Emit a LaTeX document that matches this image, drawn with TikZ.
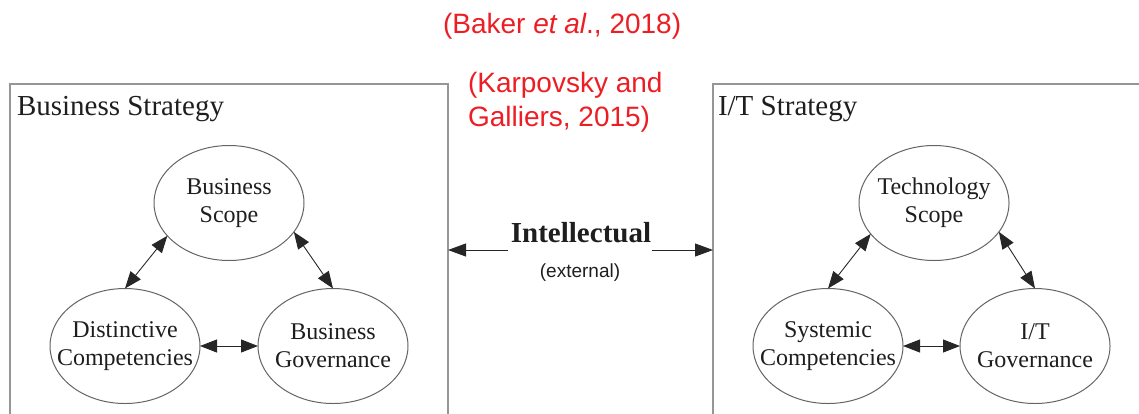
\documentclass[tikz,border=0pt]{standalone}
\usepackage{fontspec}
\setmainfont{Liberation Serif}
\newfontfamily\arialfont{Liberation Sans}
\usetikzlibrary{shapes.geometric,arrows.meta}
\definecolor{citered}{RGB}{236,30,36}
\definecolor{boxgray}{RGB}{150,150,150}
\definecolor{ellgray}{RGB}{100,100,100}
\definecolor{txt}{RGB}{30,30,30}
\begin{document}
\begin{tikzpicture}[x=1pt,y=-1pt,
  every node/.style={inner sep=0pt, outer sep=0pt},
  panel/.style={draw=boxgray, line width=1.2pt, rectangle, anchor=north west},
  title/.style={anchor=base west, font=\fontsize{29}{33}\selectfont, text=txt},
  bubble/.style={ellipse, draw=ellgray, line width=1pt, minimum width=150pt,
    minimum height=115pt, inner xsep=-18pt, inner ysep=0pt, align=center,
    font=\fontsize{24}{28}\selectfont, text=txt},
  link/.style={{Triangle[length=17pt,width=13pt]}-{Triangle[length=17pt,width=13pt]},
    line width=0.9pt, draw=black!85},
  halfarrow/.style={-{Triangle[length=18pt,width=13pt]}, line width=0.9pt, draw=black!85},
  cite/.style={font=\arialfont\fontsize{28}{34}\selectfont, text=citered}
]
\useasboundingbox (0,0) rectangle (1139,413);
\clip (0,0) rectangle (1139,413);

% panels
\node[panel, minimum width=438pt, minimum height=360pt] (bsbox) at (10,84) {};
\node[panel, minimum width=470pt, minimum height=360pt] (itbox) at (713,84) {};
\node[title] (bstitle) at (17,115) {Business Strategy};
\node[title] (ittitle) at (718,115) {I/T Strategy};

% business side
\node[bubble] (bs) at (229,203) {Business\\Scope};
\node[bubble] (dc) at (125,346) {Distinctive\\Competencies};
\node[bubble] (bg) at (333,346) {Business\\Governance};
\draw[link] (bs.208) -- (dc.north);
\draw[link] (bs.336) -- (bg.north);
\draw[link] (dc.east) -- (bg.west);

% I/T side
\node[bubble] (ts) at (934,203) {Technology\\Scope};
\node[bubble] (sc) at (828,346) {Systemic\\Competencies};
\node[bubble] (ig) at (1035,346) {I/T\\Governance};
\draw[link] (ts.206) -- (sc.north);
\draw[link] (ts.336) -- (ig.north);
\draw[link] (sc.east) -- (ig.west);

% intellectual link
\node[anchor=base, font=\bfseries\fontsize{29}{33}\selectfont, text=txt] (intel) at (581,242) {Intellectual};
\node[anchor=base, font=\arialfont\fontsize{19}{22}\selectfont, text=txt] (ext) at (580,277) {(external)};
\coordinate (ilL) at (508,250);
\coordinate (ilR) at (652,250);
\draw[halfarrow] (ilL) -- (bsbox.east |- ilL);
\draw[halfarrow] (ilR) -- (itbox.west |- ilR);

% citations
\node[cite, anchor=base west] (baker) at (443,33) {(Baker \textit{et al}., 2018)};
\node[cite, anchor=north west, align=left] (karp) at (468,72) {(Karpovsky and\\Galliers, 2015)};
\end{tikzpicture}
\end{document}
